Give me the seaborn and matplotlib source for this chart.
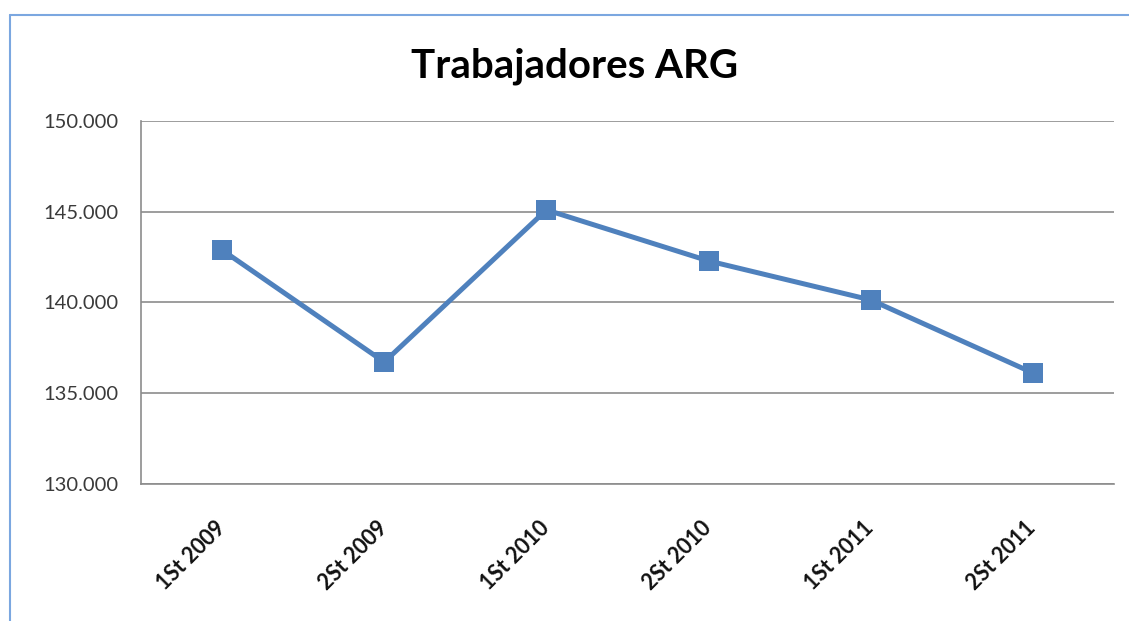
import matplotlib
matplotlib.use("Agg")
import matplotlib.pyplot as plt
import matplotlib.transforms as mtransforms
from matplotlib.lines import Line2D
from matplotlib.ticker import FuncFormatter
import seaborn as sns
import pandas as pd

# data
periodos = ["1St 2009", "2St 2009", "1St 2010", "2St 2010", "1St 2011", "2St 2011"]
trabajadores = [142890, 136720, 145100, 142290, 140140, 136120]

df = pd.DataFrame({"periodo": periodos, "trabajadores": trabajadores})

sns.set_style("white")
plt.rcParams["font.family"] = ["Lato", "DejaVu Sans"]

fig = plt.figure(figsize=(11.29, 6.21), dpi=100)
ax = fig.add_axes([0.1249, 0.2206, 0.8618, 0.5846])

sns.lineplot(data=df, x="periodo", y="trabajadores", ax=ax, color="#4F81BD",
             linewidth=3.6, marker="s", markersize=14, markeredgewidth=0,
             sort=False)

ax.set_xlim(-0.5, 5.5)
ax.set_ylim(130000, 150000)
ax.set_yticks([130000, 135000, 140000, 145000, 150000])
ax.yaxis.set_major_formatter(FuncFormatter(lambda v, p: f"{v:,.0f}".replace(",", ".")))
ax.grid(axis="y", color="#8C8C8C", linewidth=1.2)
ax.grid(axis="x", visible=False)
ax.set_axisbelow(True)

for s in ["top", "right"]:
    ax.spines[s].set_visible(False)
for s in ["left", "bottom"]:
    ax.spines[s].set_color("#8C8C8C")
    ax.spines[s].set_linewidth(1.2)

ax.tick_params(axis="y", length=0, pad=16, labelsize=14.5, labelcolor="#3A3A3A")
ax.tick_params(axis="x", length=0, pad=24, labelsize=15.5, labelcolor="#111111")
plt.setp(ax.get_xticklabels(), rotation=45, ha="right", fontweight="bold")
# nudge the rotated labels a little to the right, like the original
shift = mtransforms.ScaledTranslation(7 / 100, 0, fig.dpi_scale_trans)
for lbl in ax.get_xticklabels():
    lbl.set_transform(lbl.get_transform() + shift)
ax.set_xlabel("")
ax.set_ylabel("")

fig.text(0.509, 0.893, "Trabajadores ARG", ha="center", va="center",
         fontsize=29, fontweight="bold", color="black")

# outer chart frame (only left and top edges visible)
fig.add_artist(Line2D([0.0093, 0.0093], [0.0, 0.976], color="#7BA7E0", linewidth=1.5))
fig.add_artist(Line2D([0.0093, 1.0], [0.976, 0.976], color="#7BA7E0", linewidth=1.5))

fig.savefig("out.png", dpi=100)
